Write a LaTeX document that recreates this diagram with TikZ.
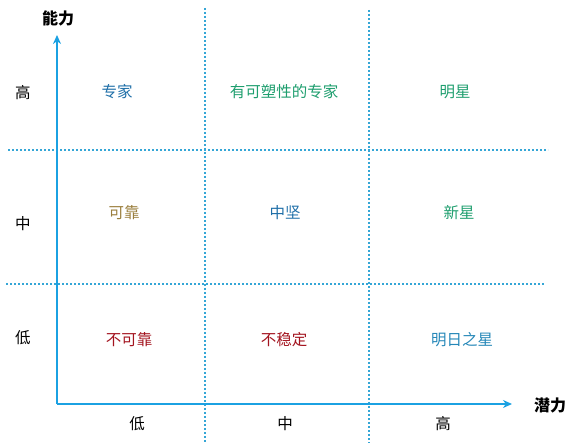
\documentclass[tikz,border=0pt]{standalone}
\usepackage{fontspec}
\setmainfont{Noto Sans CJK SC}
\usetikzlibrary{arrows.meta}
\definecolor{axisblue}{HTML}{1BA1E2}
\definecolor{dotblue}{HTML}{35A6D6}
\definecolor{cblue}{HTML}{1F6FA8}
\definecolor{cgreen}{HTML}{1E9E6E}
\definecolor{colive}{HTML}{9A7E3C}
\definecolor{cred}{HTML}{A3141F}
\definecolor{lblue}{HTML}{2587B8}
\begin{document}
\begin{tikzpicture}[x=1pt,y=-1pt,
  lab/.style={font=\fontsize{15.5}{17}\selectfont, inner sep=0pt},
  axlab/.style={font=\fontsize{16}{18}\selectfont\bfseries, inner sep=0pt},
  grid/.style={dotblue, line width=2pt, dash pattern=on 2pt off 2pt},
  axis/.style={axisblue, line width=2.4pt, -{Stealth[length=9pt,width=8pt]}}]
\useasboundingbox (0,0) rectangle (578,443);
% grid lines
\coordinate (v1t) at (205,8); \coordinate (v1b) at (205,443);
\coordinate (v2t) at (369,10); \coordinate (v2b) at (369,443);
\coordinate (h1l) at (8,150); \coordinate (h1r) at (548,150);
\coordinate (h2l) at (6,284); \coordinate (h2r) at (545,284);
\draw[grid] (v1t) -- (v1b);
\draw[grid] (v2t) -- (v2b);
\draw[grid] (h1l) -- (h1r);
\draw[grid] (h2l) -- (h2r);
% axes
\coordinate (o) at (57,404);
\coordinate (ytip) at (57,35);
\coordinate (xtip) at (512,404);
\draw[axis] (o) -- (ytip);
\draw[axis] (o) -- (xtip);
\node[axlab] (ylab) at (58,18) {能力};
\node[axlab] (xlab) at (550,405) {潜力};
% row labels
\node[lab] (rh) at (23,93) {高};
\node[lab] (rm) at (23,224) {中};
\node[lab] (rl) at (23,338) {低};
% column labels
\node[lab] (cl) at (137,424) {低};
\node[lab] (cm) at (285,424) {中};
\node[lab] (ch) at (443,424) {高};
% cells
\node[lab, cblue] (c11) at (117,92) {专家};
\node[lab, cgreen] (c12) at (284,92) {有可塑性的专家};
\node[lab, cgreen] (c13) at (455,92) {明星};
\node[lab, colive] (c21) at (124,213) {可靠};
\node[lab, cblue] (c22) at (285,213) {中坚};
\node[lab, cgreen] (c23) at (459,213) {新星};
\node[lab, cred] (c31) at (129,340) {不可靠};
\node[lab, cred] (c32) at (284,340) {不稳定};
\node[lab, lblue] (c33) at (462,340) {明日之星};
\end{tikzpicture}
\end{document}
